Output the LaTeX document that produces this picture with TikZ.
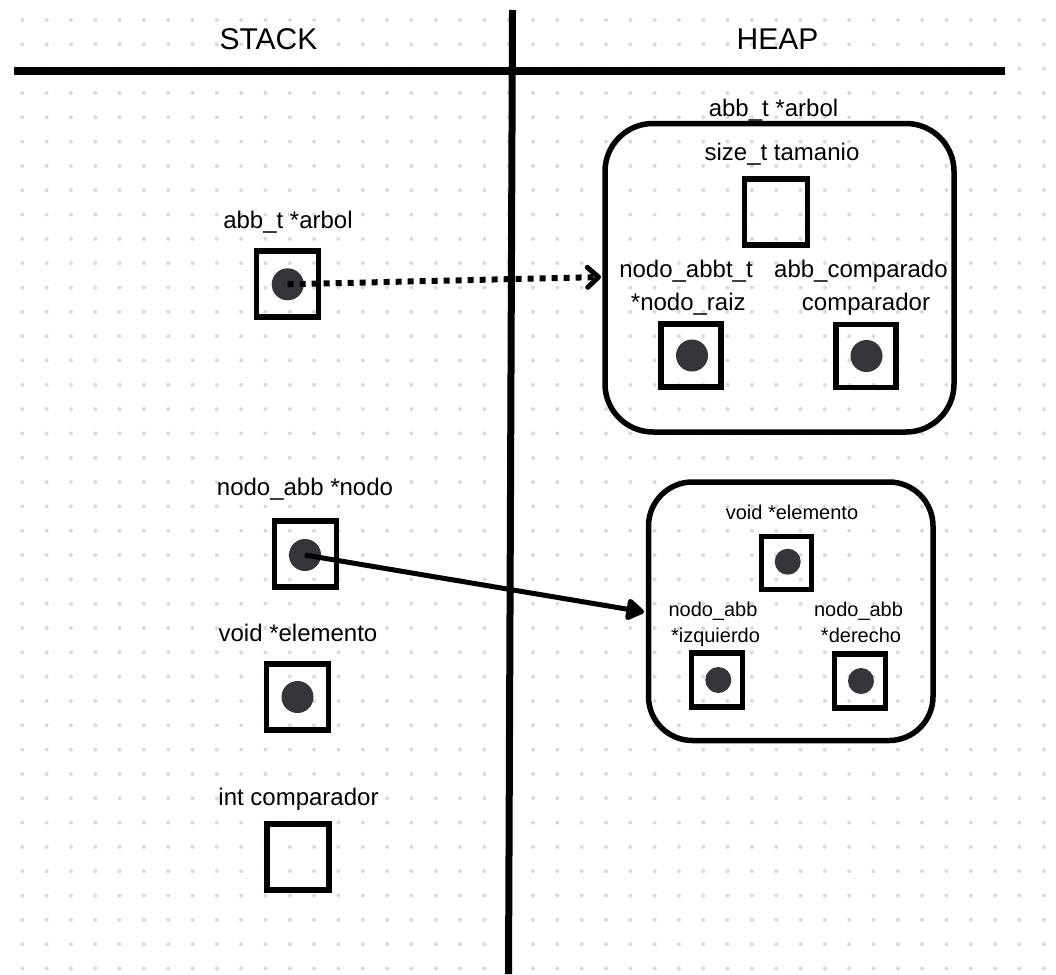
\documentclass[tikz,border=0pt]{standalone}
\usepackage{fontspec}
\setmainfont{Liberation Sans}
\usetikzlibrary{arrows.meta}
\definecolor{griddot}{RGB}{214,218,226}
\definecolor{ptrdot}{RGB}{52,52,58}
\begin{document}
\begin{tikzpicture}[x=1pt,y=-1pt,
  header/.style={inner sep=0pt,anchor=base,font=\fontsize{30}{36}\selectfont},
  lbl/.style={inner sep=0pt,anchor=base,font=\fontsize{24}{28}\selectfont},
  slbl/.style={inner sep=0pt,anchor=base,font=\fontsize{20}{24}\selectfont},
  cell/.style={draw=black,line width=5.5pt,inner sep=0pt,minimum width=62pt,minimum height=66pt},
  scell/.style={draw=black,line width=5.5pt,inner sep=0pt,minimum width=51pt,minimum height=54pt},
  ptr/.style={circle,fill=ptrdot,inner sep=0pt,minimum size=32pt},
  sptr/.style={circle,fill=ptrdot,inner sep=0pt,minimum size=26pt},
  region/.style={draw=black,line width=5.5pt,rounded corners=48pt},
  divider/.style={draw=black,line width=7.5pt}
]
\useasboundingbox (0,0) rectangle (1056,974);
\fill[white] (0,0) rectangle (1056,974);

% dotted background grid
\foreach \i in {-1,...,43}{
  \foreach \j in {0,...,39}{
    \fill[griddot] ({22.3+24.32*\i},{20+24.32*\j}) circle (2pt);
  }
}

% column dividers
\draw[divider] (14,71) -- (1005,71);
\draw[divider,line width=7pt] (512.5,10) -- (508.5,974);
\node[header] (stackhd) at (268.5,49) {STACK};
\node[header] (heaphd) at (777.5,49) {HEAP};

% ---- stack variables ----
\node[lbl] (lArbol) at (288,228) {abb\_t *arbol};
\node[cell] (cArbol) at (287.5,284) {};
\node[ptr] (pArbol) at (287.7,284.3) {};

\node[lbl] (lNodo) at (305,495) {nodo\_abb *nodo};
\node[cell] (cNodo) at (305.5,554) {};
\node[ptr] (pNodo) at (305,555) {};

\node[lbl] (lElem) at (298,641) {void *elemento};
\node[cell] (cElem) at (297.5,697) {};
\node[ptr] (pElem) at (297.5,697) {};

\node[lbl] (lCmp) at (298.5,805) {int comparador};
\node[cell] (cCmp) at (298,857) {};

% ---- heap: tree struct ----
\node[lbl] (lHArbol) at (773.5,116) {abb\_t *arbol};
\draw[region] (605,123.5) rectangle (954,432);
\node[lbl] (lTam) at (782,160.5) {size\_t tamanio};
\node[cell,minimum width=63pt] (cTam) at (776,212) {};

\node[lbl] (lRaiz1) at (686,277.5) {nodo\_abbt\_t};
\node[lbl] (lRaiz2) at (688.3,310) {*nodo\_raiz};
\node[cell,minimum width=60pt,minimum height=63pt] (cRaiz) at (691,355.5) {};
\node[ptr] (pRaiz) at (692,355.5) {};

\node[lbl,anchor=base west] (lComp1) at (774,277.5) {abb\_comparado};
\node[lbl] (lComp2) at (866,310) {comparador};
\node[cell,minimum width=60pt,minimum height=63pt] (cComp) at (866,356) {};
\node[ptr] (pComp) at (866.5,356) {};

% ---- heap: tree node ----
\draw[region,rounded corners=44pt] (648.5,482) rectangle (933,740.5);
\node[slbl] (lNElem) at (792,519) {void *elemento};
\node[scell,minimum width=50pt,minimum height=53pt] (cNElem) at (786.5,563) {};
\node[sptr] (pNElem) at (787.7,561.7) {};

\node[slbl] (lIzq1) at (713,616.5) {nodo\_abb};
\node[slbl] (lIzq2) at (715.5,642) {*izquierdo};
\node[scell] (cIzq) at (717,680) {};
\node[sptr] (pIzq) at (718.3,680) {};

\node[slbl] (lDer1) at (858.5,616.5) {nodo\_abb};
\node[slbl] (lDer2) at (861,642) {*derecho};
\node[scell] (cDer) at (860,681) {};
\node[sptr] (pDer) at (861,681) {};

% ---- pointers from the stack into the heap ----
\coordinate (tArbol) at (601,277);
\coordinate (tNodo) at (644,612);
\draw[line width=6pt,dash pattern=on 6pt off 6pt,
      -{Straight Barb[length=11pt,width=20pt,line width=5pt,round]}]
  (pArbol.center) -- (tArbol);
\draw[line width=5pt,-{Triangle[length=20pt,width=24pt,round]}]
  (pNodo.center) -- (tNodo);
\end{tikzpicture}
\end{document}
